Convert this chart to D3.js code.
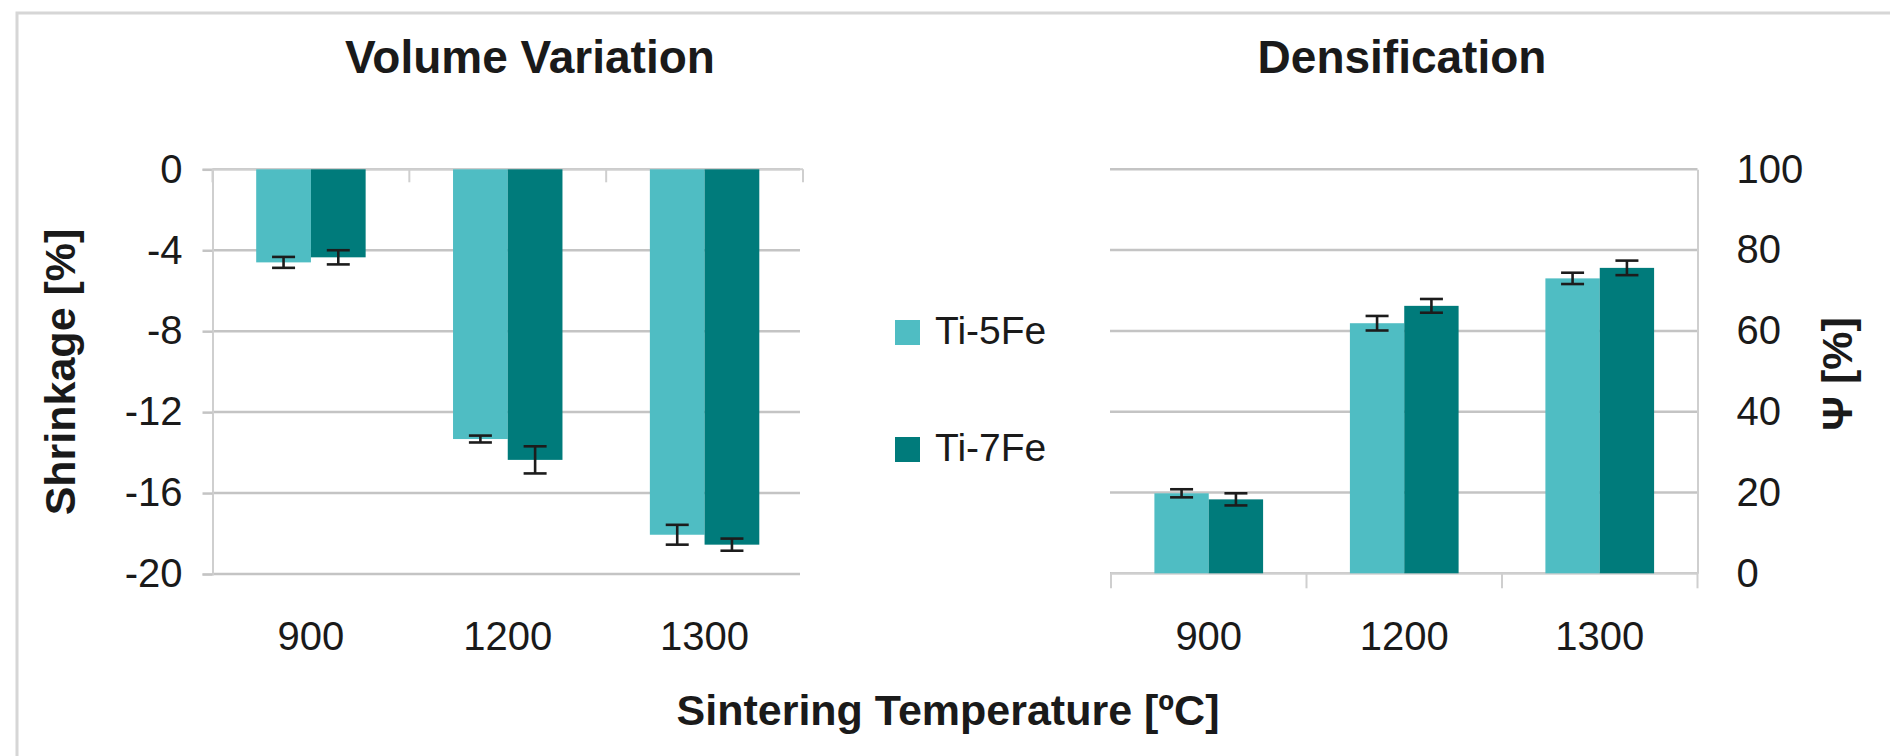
<!DOCTYPE html>
<html>
<head>
<meta charset="utf-8">
<script src="https://cdn.jsdelivr.net/npm/d3@7"></script>
<style>
  body { margin: 0; background: #fff; }
  text { font-family: "Liberation Sans", Arial, sans-serif; fill: #1a1a1a; }
  .tick text { font-size: 40px; }
  .bold { font-weight: bold; }
</style>
</head>
<body>
<div id="chart"></div>
<script>
// values
const temps = ["900", "1200", "1300"]
const alloys = ["Ti-5Fe", "Ti-7Fe"]
const colors = ["#4fbdc3", "#007b7b"]

const shrink5 = [-4.6, -13.33, -18.06]
const shrink7 = [-4.35, -14.36, -18.55]
const shrinkErr5 = [0.27, 0.17, 0.49]
const shrinkErr7 = [0.35, 0.67, 0.3]

const dens5 = [19.8, 61.9, 73.0]
const dens7 = [18.3, 66.2, 75.6]
const densErr5 = [1.0, 1.8, 1.4]
const densErr7 = [1.5, 1.7, 1.8]

const shrinkTicks = [0, -4, -8, -12, -16, -20]
const densTicks = [0, 20, 40, 60, 80, 100]

const W = 1890, H = 756
const gridColor = "#c4c4c4"
const axisColor = "#cfcfcf"

let svg = d3.select("#chart")
    .append("svg")
    .attr("width", W)
    .attr("height", H)

svg.append("rect").attr("width", W).attr("height", H).attr("fill", "#fff")

// light frame round the figure
svg.append("rect")
    .attr("x", 17).attr("y", 13)
    .attr("width", W + 20).attr("height", H + 20)
    .attr("fill", "none")
    .attr("stroke", "#d6d6d6")
    .attr("stroke-width", 3)

function rows(a, b, ea, eb) {
    return temps.map((t, i) => ({
        temp: t,
        vals: [
            { alloy: alloys[0], v: a[i], e: ea[i] },
            { alloy: alloys[1], v: b[i], e: eb[i] }
        ]
    }))
}

function drawPanel(opts) {
    const x0 = d3.scaleBand()
        .domain(temps)
        .range(opts.xRange)
        .paddingInner(0.444)
        .paddingOuter(0.222)
    const x1 = d3.scaleBand()
        .domain(alloys)
        .range([0, x0.bandwidth()])
    const color = d3.scaleOrdinal().domain(alloys).range(colors)
    const y = opts.y
    const step = x0.step()
    const left = opts.xRange[0], right = opts.xRange[1]

    // gridlines
    svg.append("g")
        .selectAll("line")
        .data(opts.ticks)
        .enter()
        .append("line")
        .attr("x1", opts.gridFrom)
        .attr("x2", opts.gridTo)
        .attr("y1", d => y(d))
        .attr("y2", d => y(d))
        .attr("stroke", gridColor)
        .attr("stroke-width", 2.5)

    // value axis (plain hyphen for negatives, as in the original)
    let axis = opts.side === "left"
        ? d3.axisLeft(y).tickValues(opts.ticks).tickSize(10).tickPadding(20)
        : d3.axisRight(y).tickValues(opts.ticks).tickSize(0).tickPadding(39)
    axis.tickFormat(d => String(d))
    let g = svg.append("g")
        .attr("transform", "translate(" + opts.axisX + ",0)")
        .call(axis)
    g.select(".domain").attr("stroke", axisColor).attr("stroke-width", 2)
    g.selectAll(".tick line").attr("stroke", gridColor).attr("stroke-width", 2.5)
    g.selectAll(".tick text").attr("fill", "#1a1a1a")
        .attr("font-family", "'Liberation Sans', Arial, sans-serif")

    // category axis line and boundary ticks
    const baseY = y(0)
    svg.append("line")
        .attr("x1", left).attr("x2", right)
        .attr("y1", baseY).attr("y2", baseY)
        .attr("stroke", axisColor).attr("stroke-width", 2)
    svg.append("g")
        .selectAll("line")
        .data(d3.range(temps.length + 1))
        .enter()
        .append("line")
        .attr("x1", i => left + i * step)
        .attr("x2", i => left + i * step)
        .attr("y1", baseY)
        .attr("y2", baseY + opts.catTick)
        .attr("stroke", axisColor).attr("stroke-width", 2)

    // bars
    const data = rows(opts.a, opts.b, opts.ea, opts.eb)
    const groups = svg.append("g")
        .selectAll("g")
        .data(data)
        .enter()
        .append("g")
        .attr("transform", d => "translate(" + x0(d.temp) + ",0)")

    groups.selectAll("rect")
        .data(d => d.vals)
        .enter()
        .append("rect")
        .attr("x", d => x1(d.alloy))
        .attr("width", x1.bandwidth())
        .attr("y", d => Math.min(y(d.v), y(0)))
        .attr("height", d => Math.abs(y(d.v) - y(0)))
        .attr("fill", d => color(d.alloy))

    // error bars
    const cap = 11.5
    const eb = groups.selectAll("g.err")
        .data(d => d.vals)
        .enter()
        .append("g")
        .attr("class", "err")
        .attr("stroke", "#1c1c1c")
        .attr("stroke-width", 2.6)
    eb.append("line")
        .attr("x1", d => x1(d.alloy) + x1.bandwidth() / 2)
        .attr("x2", d => x1(d.alloy) + x1.bandwidth() / 2)
        .attr("y1", d => y(d.v - d.e))
        .attr("y2", d => y(d.v + d.e))
    eb.append("line")
        .attr("x1", d => x1(d.alloy) + x1.bandwidth() / 2 - cap)
        .attr("x2", d => x1(d.alloy) + x1.bandwidth() / 2 + cap)
        .attr("y1", d => y(d.v - d.e))
        .attr("y2", d => y(d.v - d.e))
    eb.append("line")
        .attr("x1", d => x1(d.alloy) + x1.bandwidth() / 2 - cap)
        .attr("x2", d => x1(d.alloy) + x1.bandwidth() / 2 + cap)
        .attr("y1", d => y(d.v + d.e))
        .attr("y2", d => y(d.v + d.e))

    // category labels, placed low like the original
    svg.append("g")
        .selectAll("text")
        .data(temps)
        .enter()
        .append("text")
        .attr("x", d => x0(d) + x0.bandwidth() / 2)
        .attr("y", 650)
        .attr("text-anchor", "middle")
        .attr("font-size", 40)
        .text(d => d)

    // panel title
    svg.append("text")
        .attr("class", "bold")
        .attr("x", opts.titleX)
        .attr("y", 73)
        .attr("text-anchor", "middle")
        .attr("font-size", 46)
        .text(opts.title)
}

drawPanel({
    title: "Volume Variation", titleX: 530,
    xRange: [212.5, 803], side: "left", axisX: 212.5,
    y: d3.scaleLinear().domain([-20, 0]).range([574, 169.3]),
    ticks: shrinkTicks, gridFrom: 212.5, gridTo: 800, catTick: 13,
    a: shrink5, b: shrink7, ea: shrinkErr5, eb: shrinkErr7
})

drawPanel({
    title: "Densification", titleX: 1402,
    xRange: [1111, 1697.5], side: "right", axisX: 1697.5,
    y: d3.scaleLinear().domain([0, 100]).range([573.3, 169.3]),
    ticks: densTicks, gridFrom: 1110, gridTo: 1697.5, catTick: 15,
    a: dens5, b: dens7, ea: densErr5, eb: densErr7
})

// legend in the middle
const legend = svg.append("g")
    .selectAll("g")
    .data(alloys)
    .enter()
    .append("g")
    .attr("transform", (d, i) => "translate(895," + (320 + i * 117) + ")")
legend.append("rect")
    .attr("width", 25).attr("height", 25)
    .attr("fill", (d, i) => colors[i])
legend.append("text")
    .attr("x", 40).attr("y", 24)
    .attr("font-size", 39)
    .text(d => d)

// axis titles
svg.append("text")
    .attr("class", "bold")
    .attr("transform", "translate(75,372) rotate(-90)")
    .attr("text-anchor", "middle")
    .attr("font-size", 43)
    .text("Shrinkage [%]")

svg.append("text")
    .attr("class", "bold")
    .attr("transform", "translate(1852,374) rotate(-90)")
    .attr("text-anchor", "middle")
    .attr("font-size", 43)
    .text("Ψ [%]")

svg.append("text")
    .attr("class", "bold")
    .attr("x", 948)
    .attr("y", 725)
    .attr("text-anchor", "middle")
    .attr("font-size", 43)
    .text("Sintering Temperature [ºC]")
</script>
</body>
</html>
